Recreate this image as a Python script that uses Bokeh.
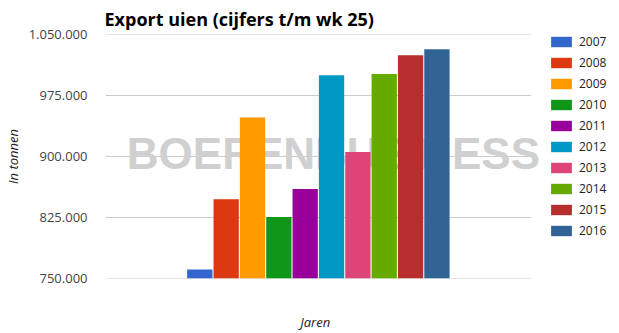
from bokeh.plotting import figure
from bokeh.models import (ColumnDataSource, Range1d, FixedTicker, CustomJSTickFormatter,
                          Legend, LegendItem)
from bokeh.core.properties import value
from bokeh.embed import file_html
from bokeh.resources import INLINE

years = ["2007", "2008", "2009", "2010", "2011", "2012", "2013", "2014", "2015", "2016"]
export_tonnen = [761000, 847500, 948000, 825500, 860000, 1000000, 905500, 1001500, 1024500, 1032000]
colors = ["#3366cc", "#dc3912", "#ff9900", "#109618", "#990099",
          "#0099c6", "#dd4477", "#66aa00", "#b82e2e", "#316395"]
y_ticks = [750000, 825000, 900000, 975000, 1050000]
watermark = ["BOERENBUSINESS"]

# plotting area (bars region) and extended frame holding the legend
x_lo, x_hi, x_frame_hi = 2003.42, 2019.58, 2022.93

source = ColumnDataSource(dict(
    x=[int(y) for y in years],
    label=years,
    value=export_tonnen,
    color=colors,
))

p = figure(width=619, height=333, output_backend="svg", toolbar_location=None,
           x_range=Range1d(x_lo, x_frame_hi), y_range=Range1d(y_ticks[0], y_ticks[-1]),
           min_border_left=100, min_border_right=0, min_border_top=34, min_border_bottom=55)
p.outline_line_color = None
p.background_fill_color = "white"
p.border_fill_color = "white"

p.title.text = "Export uien (cijfers t/m wk 25)"
p.title.text_font = "Open Sans"
p.title.text_font_style = "bold"
p.title.text_font_size = "18px"
p.title.text_color = "#000000"
p.title.align = "left"
p.title.standoff = 7
p.title.offset = -1

# horizontal grid lines limited to the chart area
p.xgrid.visible = False
p.ygrid.visible = False
grid = p.segment(x0=[x_lo] * len(y_ticks), x1=[x_hi] * len(y_ticks), y0=y_ticks, y1=y_ticks,
                 line_color="#cccccc", line_width=1)
grid.level = "underlay"

wm = p.text(x=[2012.07], y=[904300], text=watermark, text_align="center", text_baseline="middle",
            text_font=value("Liberation Sans"), text_font_style="bold", text_font_size="44px",
            text_color="#d0d0d0")
wm.level = "underlay"

r = p.vbar(x="x", top="value", bottom=y_ticks[0], width=0.96, color="color", line_color=None,
           source=source)

p.yaxis.ticker = FixedTicker(ticks=y_ticks)
p.yaxis.formatter = CustomJSTickFormatter(code="return tick.toFixed(0).replace(/\\B(?=(\\d{3})+(?!\\d))/g, '.');")
p.yaxis.axis_line_color = None
p.yaxis.major_tick_line_color = None
p.yaxis.minor_tick_line_color = None
p.yaxis.major_label_text_font = "Open Sans"
p.yaxis.major_label_text_font_size = "13px"
p.yaxis.major_label_text_color = "#444444"
p.yaxis.major_label_standoff = 12
p.yaxis.axis_label = "In tonnen"
p.yaxis.axis_label_text_font = "Open Sans"
p.yaxis.axis_label_text_font_style = "italic"
p.yaxis.axis_label_text_font_size = "13px"
p.yaxis.axis_label_text_color = "#222222"
p.yaxis.axis_label_standoff = 4

p.xaxis.axis_line_color = None
p.xaxis.major_tick_line_color = None
p.xaxis.minor_tick_line_color = None
p.xaxis.major_label_text_alpha = 0
# trailing no-break spaces keep "Jaren" centred under the bars rather than the wider frame
p.xaxis.axis_label = "Jaren" + "\u00a0" * 28
p.xaxis.axis_label_text_font = "Open Sans"
p.xaxis.axis_label_text_font_style = "italic"
p.xaxis.axis_label_text_font_size = "13px"
p.xaxis.axis_label_text_color = "#222222"
p.xaxis.axis_label_standoff = 28

items = [LegendItem(label=years[i], renderers=[r], index=i) for i in range(len(years))]
leg = Legend(items=items, location=(443, 39), border_line_color=None, background_fill_alpha=0,
             padding=0, margin=0, spacing=4, glyph_width=26, glyph_height=13, label_height=13,
             label_standoff=5, label_text_font="Open Sans", label_text_font_size="12px",
             label_text_color="#222222")
p.add_layout(leg)

open("out.html", "w").write(file_html(p, INLINE))
